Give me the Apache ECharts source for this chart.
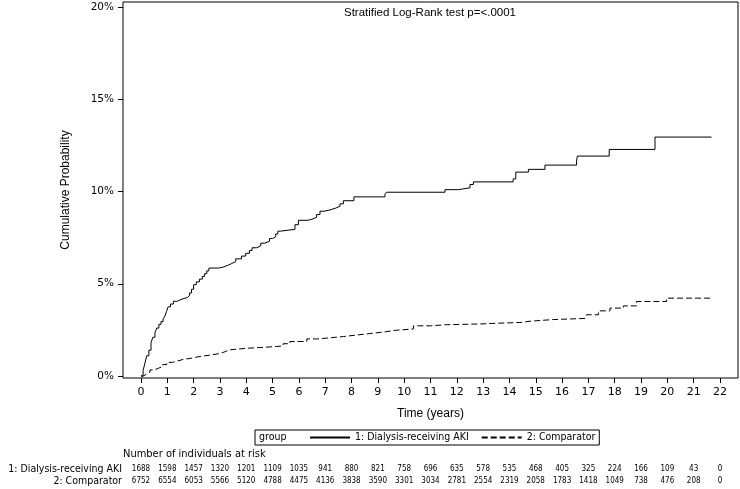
<!DOCTYPE html>
<html>
<head>
<meta charset="utf-8">
<script src="https://cdn.jsdelivr.net/npm/echarts@6/dist/echarts.min.js"></script>
<style>
html,body{margin:0;padding:0;background:#fff}
#main{width:740px;height:489px}
</style>
</head>
<body>
<div id="main"></div>
<script>
// step times (years) and cumulative probability (%) after each step
var akiTime = [0,0.08,0.15,0.22,0.3,0.38,0.45,0.53,0.6,0.68,0.76,0.84,0.91,0.97,1.03,1.12,1.23,1.38,1.52,1.76,1.84,1.92,2.0,2.1,2.22,2.33,2.42,2.5,2.58,2.95,3.12,3.3,3.45,3.6,3.82,3.98,4.12,4.22,4.4,4.55,4.7,4.88,5.0,5.12,5.2,5.3,5.85,5.98,6.36,6.5,6.67,6.8,6.95,7.18,7.4,7.56,7.69,8.09,9.27,9.33,11.55,12.06,12.5,12.63,14.14,14.24,14.72,15.35,16.55,16.58,17.79,19.53,21.68];
var akiProb = [0,0.3,0.7,1.1,1.4,1.8,2.1,2.35,2.6,2.8,2.95,3.1,3.25,3.5,3.75,3.9,4.05,4.15,4.25,4.35,4.5,4.7,4.95,5.1,5.25,5.4,5.55,5.7,5.85,5.9,6.0,6.1,6.2,6.35,6.5,6.65,6.8,6.95,7.05,7.2,7.3,7.45,7.55,7.7,7.85,7.95,8.2,8.44,8.5,8.6,8.75,8.93,9.0,9.1,9.2,9.33,9.5,9.71,9.85,9.96,10.1,10.2,10.38,10.52,10.68,11.05,11.2,11.43,11.65,11.92,12.28,12.95,12.95];

var compTime = [0,0.1,0.2,0.34,0.5,0.66,0.82,0.98,1.2,1.4,1.61,1.9,2.12,2.4,2.7,3.0,3.2,3.38,4.0,4.6,5.16,5.4,5.66,6.3,6.7,7.18,7.7,8.19,8.7,9.2,9.7,10.35,11.0,11.61,12.88,13.5,14.4,14.78,15.67,16.87,16.93,17.38,17.82,18.33,18.83,19.97,21.72];
var compProb = [0,0.1,0.2,0.33,0.42,0.51,0.62,0.74,0.82,0.9,0.96,1.03,1.09,1.15,1.22,1.32,1.42,1.5,1.55,1.6,1.63,1.75,1.87,2.01,2.07,2.14,2.22,2.3,2.38,2.48,2.55,2.72,2.78,2.82,2.86,2.9,2.97,3.06,3.12,3.2,3.32,3.53,3.68,3.8,4.04,4.22,4.22];

// tick values
var timeTicks = [0,1,2,3,4,5,6,7,8,9,10,11,12,13,14,15,16,17,18,19,20,21,22];
var probTicks = [0,5,10,15,20];

// number at risk at years 0..22
var riskAki = [1688,1598,1457,1320,1201,1109,1035,941,880,821,758,696,635,578,535,468,405,325,224,166,109,43,0];
var riskComp = [6752,6554,6053,5566,5120,4788,4475,4136,3838,3590,3301,3034,2781,2554,2319,2058,1783,1418,1049,738,476,208,0];

var nameAki = '1: Dialysis-receiving AKI';
var nameComp = '2: Comparator';

var narrow = "'Liberation Sans Narrow','DejaVu Sans Condensed',sans-serif";
var sans = "'Liberation Sans',Arial,sans-serif";
var tickFont = "'DejaVu Sans',Verdana,sans-serif";

// axis extents a bit wider than the ticks, like the SAS frame
var xMin = -0.684, xMax = 22.684;
var yMin = -0.108, yMax = 20.27;

function pairs(t, p){
	var out = [];
	for (var i = 0; i < t.length; i++) out.push([t[i], p[i]]);
	return out;
}

function riskAxis(name, risk, offset){
	return {
		type: 'value', position: 'bottom', offset: offset,
		min: xMin, max: xMax,
		axisLine: {show: false, onZero: false}, axisTick: {show: false}, splitLine: {show: false},
		axisLabel: {
			customValues: timeTicks,
			margin: 0, verticalAlign: 'middle', fontSize: 8, fontFamily: narrow, color: '#000',
			formatter: function(v){ var k = Math.round(v); return risk[k] === undefined ? '' : String(risk[k]); }
		},
		name: name, nameLocation: 'start', nameGap: 1,
		nameTextStyle: {fontSize: 10.5, fontFamily: narrow, color: '#000', verticalAlign: 'middle'}
	};
}

var myChart = echarts.init(document.getElementById('main'));
var option = {
	animation: false,
	backgroundColor: '#fff',
	title: [
		{text: 'Stratified Log-Rank test p=<.0001', left: 344, top: 7, padding: 0,
			textStyle: {fontSize: 11.5, fontWeight: 'normal', fontFamily: sans, color: '#000'}},
		{text: 'group', left: 259, top: 432, padding: 0,
			textStyle: {fontSize: 10.5, fontWeight: 'normal', fontFamily: narrow, color: '#000'}},
		{text: 'Number of individuals at risk', left: 123, top: 449, padding: 0,
			textStyle: {fontSize: 11, fontWeight: 'normal', fontFamily: narrow, color: '#000'}}
	],
	legend: {
		left: 255, top: 430, padding: [2, 4, 2, 54],
		borderColor: '#000', borderWidth: 1,
		itemWidth: 40, itemHeight: 10, itemGap: 12,
		itemStyle: {color: 'transparent', borderWidth: 0, opacity: 0},
		textStyle: {fontSize: 10.5, fontFamily: narrow, color: '#000'},
		data: [nameAki, nameComp]
	},
	grid: {left: 123, right: 2, top: 2, bottom: 111, show: true, borderColor: '#000', borderWidth: 1, backgroundColor: 'transparent'},
	xAxis: [
		{
			type: 'value', min: xMin, max: xMax,
			axisLine: {show: false, onZero: false},
			axisTick: {show: true, length: 5, customValues: timeTicks, lineStyle: {color: '#000'}},
			splitLine: {show: false},
			axisLabel: {customValues: timeTicks, margin: 9, fontSize: 11, fontFamily: tickFont, color: '#000'},
			name: 'Time (years)', nameLocation: 'middle', nameGap: 30,
			nameTextStyle: {fontSize: 12, fontFamily: sans, color: '#000'}
		},
		riskAxis(nameAki, riskAki, 91),
		riskAxis(nameComp, riskComp, 103)
	],
	yAxis: {
		type: 'value', min: yMin, max: yMax,
		axisLine: {show: false, onZero: false},
		axisTick: {show: true, length: 5, customValues: probTicks, lineStyle: {color: '#000'}},
		splitLine: {show: false},
		axisLabel: {customValues: probTicks, margin: 9, fontSize: 10.5, fontFamily: tickFont, color: '#000',
			formatter: function(v){ return Math.round(v) + '%'; }},
		name: 'Cumulative Probability', nameLocation: 'middle', nameGap: 51,
		nameTextStyle: {fontSize: 12, fontFamily: sans, color: '#000'}
	},
	series: [
		{
			name: nameAki, type: 'line', step: 'end',
			symbol: 'none', lineStyle: {color: '#000', width: 1}, itemStyle: {color: '#000'},
			data: pairs(akiTime, akiProb)
		},
		{
			name: nameComp, type: 'line', step: 'end',
			symbol: 'none', lineStyle: {color: '#000', width: 1, type: [6, 3]}, itemStyle: {color: '#000'},
			data: pairs(compTime, compProb)
		}
	]
};
myChart.setOption(option);
</script>
</body>
</html>
